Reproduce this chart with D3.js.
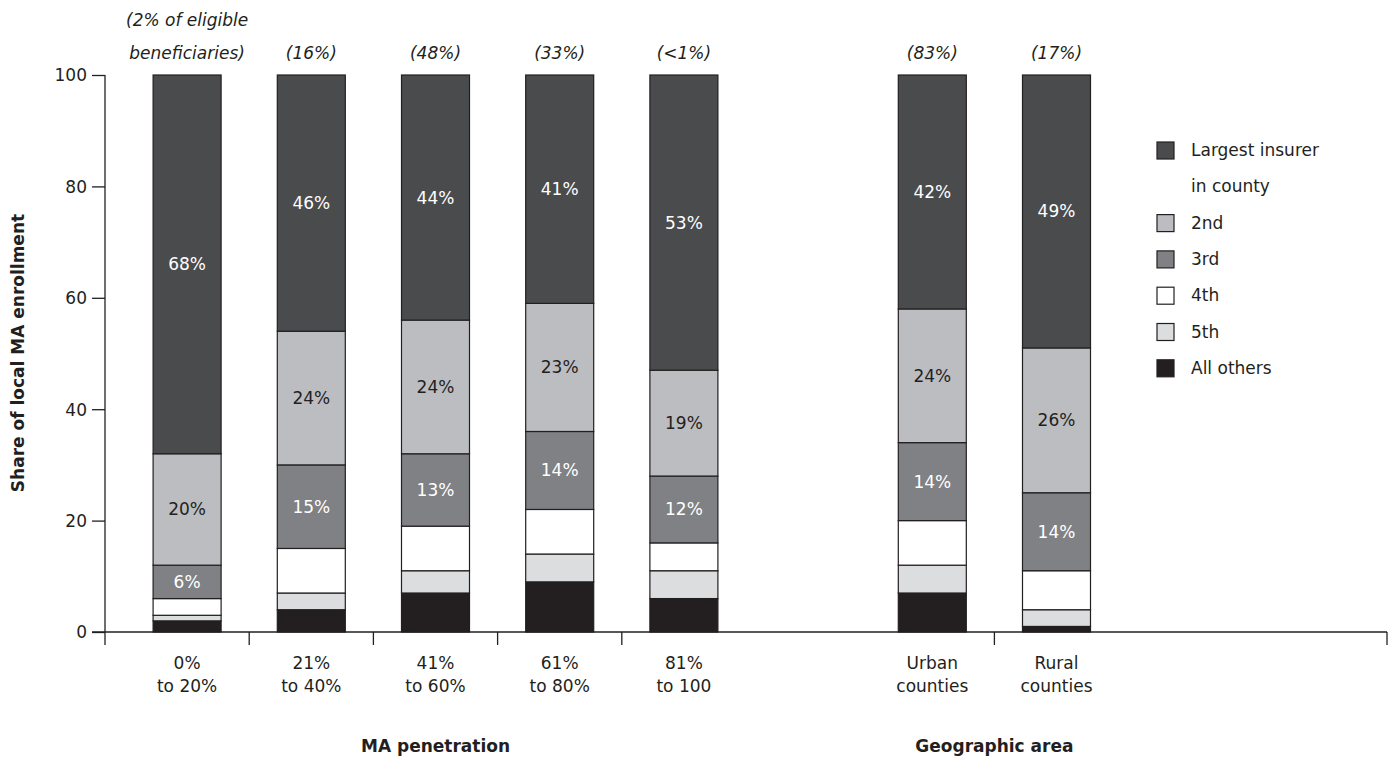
<!DOCTYPE html>
<html><head><meta charset="utf-8">
<script src="https://cdn.jsdelivr.net/npm/d3@7"></script>
<style>
html,body{margin:0;padding:0;background:#fff;}
svg text{font-family:"DejaVu Sans",sans-serif;fill:#231f20;}
</style></head>
<body><svg id="c" width="1392" height="757"></svg>
<script>
// ---- data ----
const slots = ["p0","p1","p2","p3","p4","gap","urban","rural"];
const categories = ["p0","p1","p2","p3","p4","urban","rural"];
const categoryLabels = [["0%","to 20%"],["21%","to 40%"],["41%","to 60%"],["61%","to 80%"],["81%","to 100"],["Urban","counties"],["Rural","counties"]];
const topNotes = [["(2% of eligible","beneficiaries)"],["(16%)"],["(48%)"],["(33%)"],["(<1%)"],["(83%)"],["(17%)"]];
const seriesNames = ["All others","5th","4th","3rd","2nd","Largest insurer in county"];
const allOthers = [2,4,7,9,6,7,1];
const fifth     = [1,3,4,5,5,5,3];
const fourth    = [3,8,8,8,5,8,7];
const third     = [6,15,13,14,12,14,14];
const second    = [20,24,24,23,19,24,26];
const largest   = [68,46,44,41,53,42,49];
const yTicks = [0,20,40,60,80,100];
const groupTitles = ["MA penetration","Geographic area"];

const colors = ["#231f20","#dcddde","#ffffff","#808184","#bcbdc0","#4a4b4d"];
const labelColors = [null,null,null,"#ffffff","#231f20","#ffffff"];
const seriesValues = [allOthers,fifth,fourth,third,second,largest];

const rows = categories.map((c,i)=>{
  const r = {cat:c};
  seriesNames.forEach((s,k)=> r[s]=seriesValues[k][i]);
  return r;
});

const FS = "17px";
const svg = d3.select("#c");
const y = d3.scaleLinear().domain([0,100]).range([632,75]);
const x = d3.scaleBand().domain(slots).range([125,125+124.2*8]).padding(0);
const barW = 68;
const bx = c => x(c) + (x.bandwidth()-barW)/2;
const cx = c => x(c) + x.bandwidth()/2;

const stack = d3.stack().keys(seriesNames)(rows);

// bars
stack.forEach((layer,k)=>{
  svg.append("g").selectAll("rect").data(layer).join("rect")
    .attr("x",d=>bx(d.data.cat)).attr("width",barW)
    .attr("y",d=>y(d[1])).attr("height",d=>y(d[0])-y(d[1]))
    .attr("fill",colors[k]).attr("stroke","#231f20").attr("stroke-width",1.2);
  if(labelColors[k]){
    svg.append("g").selectAll("text").data(layer).join("text")
      .attr("x",d=>cx(d.data.cat)).attr("y",d=>y((d[0]+d[1])/2)+6)
      .attr("text-anchor","middle").style("font-size",FS)
      .style("fill",labelColors[k])
      .text(d=>(d[1]-d[0])+"%");
  }
});

// y axis
const ya = svg.append("g").attr("transform","translate(105,0)")
  .call(d3.axisLeft(y).tickValues(yTicks).tickSize(13).tickPadding(5));
ya.select(".domain").attr("stroke","#231f20").attr("stroke-width",1.3).attr("d","M0,"+y(100)+"V"+(y(0)+13));
ya.selectAll(".tick line").attr("stroke","#231f20").attr("stroke-width",1.3);
ya.selectAll(".tick text").style("font-size",FS).style("font-family","'DejaVu Sans',sans-serif").attr("fill","#231f20").attr("dy","0.35em");

// x axis line
svg.append("line").attr("x1",92).attr("x2",1387).attr("y1",y(0)).attr("y2",y(0))
  .attr("stroke","#231f20").attr("stroke-width",1.5);
// x ticks at boundaries
const tickPos = [x("p1"),x("p2"),x("p3"),x("p4"),x("gap"),x("rural"),1387];
svg.append("g").selectAll("line").data(tickPos.filter(d=>d!==x("gap"))).join("line")
  .attr("x1",d=>d).attr("x2",d=>d).attr("y1",y(0)).attr("y2",y(0)+13)
  .attr("stroke","#231f20").attr("stroke-width",1.3);

// category labels
categories.forEach((c,i)=>{
  const t = svg.append("text").attr("text-anchor","middle").style("font-size",FS);
  categoryLabels[i].forEach((l,j)=> t.append("tspan").attr("x",cx(c)).attr("y",669+j*23).text(l));
});
// top notes
categories.forEach((c,i)=>{
  const n = topNotes[i];
  const t = svg.append("text").attr("text-anchor","middle").style("font-size",FS).style("font-style","italic");
  n.forEach((l,j)=> t.append("tspan").attr("x",cx(c)).attr("y",59-(n.length-1-j)*33).text(l));
});

// group titles
svg.append("text").attr("x",cx("p2")).attr("y",752).attr("text-anchor","middle")
  .style("font-size",FS).style("font-weight","bold").text(groupTitles[0]);
svg.append("text").attr("x",x("rural")).attr("y",752).attr("text-anchor","middle")
  .style("font-size",FS).style("font-weight","bold").text(groupTitles[1]);

// y title
svg.append("text").attr("transform","translate(24,353) rotate(-90)").attr("text-anchor","middle")
  .style("font-size",FS).style("font-weight","bold").text("Share of local MA enrollment");

// legend
const legendItems = [
  {k:5, lines:["Largest insurer","in county"]},
  {k:4, lines:["2nd"]},{k:3, lines:["3rd"]},{k:2, lines:["4th"]},{k:1, lines:["5th"]},{k:0, lines:["All others"]}
];
let ly = 150;
legendItems.forEach(it=>{
  svg.append("rect").attr("x",1157).attr("y",ly-8).attr("width",17).attr("height",17)
    .attr("fill",colors[it.k]).attr("stroke","#231f20").attr("stroke-width",1.2);
  it.lines.forEach((l,j)=>{
    svg.append("text").attr("x",1191).attr("y",ly+6+j*36).style("font-size",FS).text(l);
  });
  ly += 36.3*it.lines.length;
});
</script></body></html>
